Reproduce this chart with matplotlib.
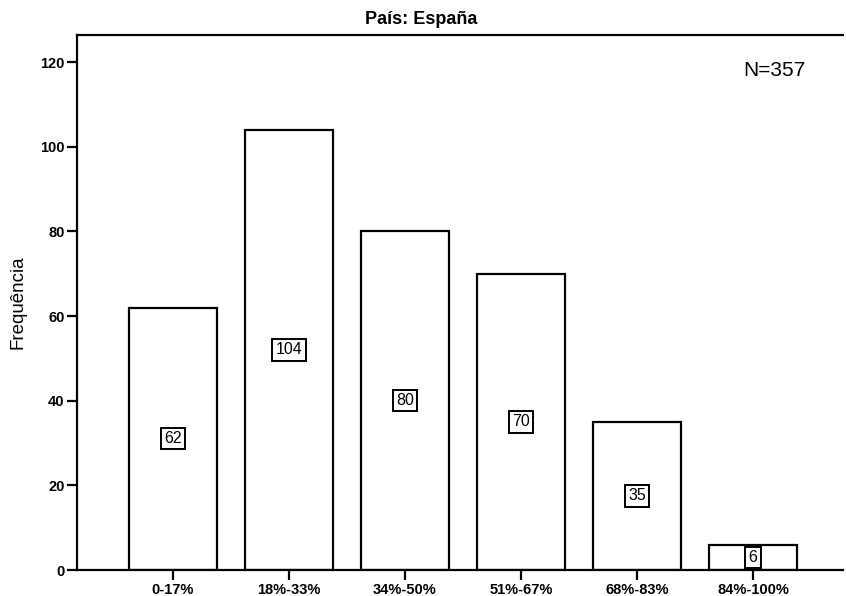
import matplotlib
matplotlib.use("Agg")
import matplotlib.pyplot as plt

categories = ["0-17%", "18%-33%", "34%-50%", "51%-67%", "68%-83%", "84%-100%"]
values = [62, 104, 80, 70, 35, 6]
yticks = [0, 20, 40, 60, 80, 100, 120]

plt.rcParams['font.family'] = ['Liberation Sans', 'DejaVu Sans']

W, H = 846, 596
fig = plt.figure(figsize=(W / 100, H / 100), dpi=100)
ax = fig.add_axes([77 / W, 1 - 570 / H, (843 - 77) / W, (570 - 35) / H])

x = list(range(len(categories)))
ax.bar(x, values, width=0.76, color="white", edgecolor="black", linewidth=1.6, zorder=2)
for xi, v in zip(x, values):
    ax.text(xi, v / 2, str(v), ha="center", va="center", fontsize=11.5, zorder=3,
            bbox=dict(boxstyle="square,pad=0.2", facecolor="white", edgecolor="black", linewidth=1.4))

ax.set_xlim(-0.828, 5.776)
ax.set_ylim(0, 126.4)
ax.set_xticks(x)
ax.set_xticklabels(categories, fontsize=10.5, fontweight="bold")
ax.set_yticks(yticks)
ax.set_yticklabels([str(t) for t in yticks], fontsize=10.5, fontweight="bold")
ax.tick_params(axis="both", direction="out", length=7, width=1.6, pad=2)
ax.spines["right"].set_visible(False)
for s in ["left", "top", "bottom"]:
    ax.spines[s].set_linewidth(1.6)

fig.text(18 / W, 1 - 302 / H, "Frequência", rotation=90, ha="center", va="center", fontsize=13.5)
fig.text(421 / W, 1 - 20 / H, "País: España", ha="center", va="center", fontsize=13, fontweight="bold")
fig.text(774 / W, 1 - 70 / H, "N=357", ha="center", va="center", fontsize=15)

fig.savefig("out.png", dpi=100)
